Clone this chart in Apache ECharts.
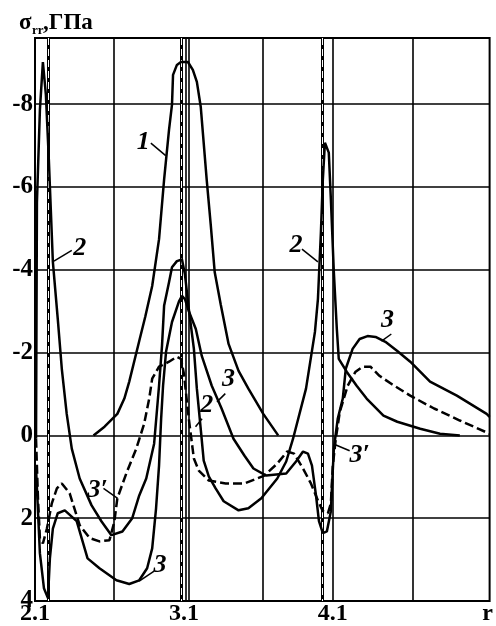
<!DOCTYPE html>
<html><head><meta charset="utf-8">
<script src="https://cdn.jsdelivr.net/npm/echarts@6/dist/echarts.min.js"></script>
<style>html,body{margin:0;padding:0;background:#fff}#c{width:496px;height:626px}</style>
</head><body><div id="c"></div>
<script>
// ---- axes ----
const xMin = 2.1, xMax = 5.153;
const yMin = -9.6, yMax = 4;
const xTickValues = [2.1, 3.1, 4.1, 5.14];
const xTickLabels = ['2.1', '3.1', '4.1', 'r'];
const yTickValues = [-8, -6, -4, -2, 0, 2, 4];
const yGridValues = [-8, -6, -4, -2, 0, 2];
const xGridValues = [2.633, 3.133, 3.633, 4.1, 4.64];
const interfaceDashed = [2.193, 3.08, 4.033];
const interfaceSolid = [3.113];

// ---- curve 1 ----
const c1R = [2.493,2.567,2.653,2.700,2.733,2.800,2.840,2.887,2.933,2.967,3.000,3.020,3.027,3.053,3.080,3.127,3.160,3.187,3.213,3.253,3.280,3.307,3.347,3.400,3.467,3.533,3.633,3.733];
const c1V = [0.00,-0.21,-0.52,-0.89,-1.30,-2.28,-2.86,-3.61,-4.74,-6.18,-7.38,-7.99,-8.71,-8.95,-9.02,-9.02,-8.83,-8.54,-7.94,-6.18,-5.10,-3.94,-3.17,-2.21,-1.56,-1.13,-0.52,0.00];

// ---- curve 2 ----
const c2R = [2.107,2.113,2.133,2.153,2.173,2.193,2.220,2.253,2.280,2.313,2.347,2.400,2.480,2.547,2.613,2.687,2.753,2.800,2.847,2.900,2.933,2.953,2.967,3.000,3.020,3.053,3.087,3.107,3.133,3.167,3.187,3.213,3.233,3.267,3.313,3.367,3.467,3.533,3.620,3.727,3.787,3.833,3.920,3.980,4.000,4.020,4.033,4.047,4.060,4.073,4.087,4.107,4.127,4.140,4.193,4.260,4.327,4.440,4.533,4.687,4.820,4.953];
const c2V = [0.08,-5.63,-7.87,-9.02,-8.23,-6.66,-4.19,-2.81,-1.61,-0.52,0.32,1.04,1.69,2.08,2.41,2.32,2.00,1.45,1.04,0.20,-1.20,-2.17,-3.13,-3.70,-4.06,-4.21,-4.25,-3.89,-3.05,-2.09,-1.13,-0.16,0.61,0.99,1.28,1.59,1.81,1.76,1.52,1.04,0.63,0.08,-1.13,-2.50,-3.29,-4.90,-6.18,-7.07,-7.07,-6.83,-5.70,-3.94,-2.57,-1.85,-1.54,-1.20,-0.89,-0.48,-0.33,-0.16,-0.04,0.00];

// ---- curve 3 ----
const c3R = [2.107,2.133,2.160,2.187,2.200,2.220,2.253,2.300,2.380,2.453,2.533,2.647,2.733,2.800,2.853,2.887,2.913,2.933,2.947,2.960,2.980,3.020,3.067,3.087,3.107,3.133,3.180,3.220,3.287,3.353,3.433,3.507,3.567,3.653,3.787,3.853,3.900,3.933,3.960,3.987,4.007,4.033,4.060,4.087,4.093,4.107,4.133,4.167,4.187,4.233,4.280,4.333,4.387,4.453,4.533,4.620,4.753,4.933,5.133,5.153];
const c3V = [0.80,2.85,3.69,3.93,2.97,2.25,1.88,1.81,2.07,2.97,3.21,3.50,3.59,3.50,3.21,2.73,1.76,0.73,-0.40,-1.20,-2.02,-2.74,-3.24,-3.37,-3.29,-3.00,-2.57,-1.92,-1.20,-0.65,0.08,0.49,0.80,0.97,0.92,0.63,0.39,0.44,0.73,1.45,2.07,2.36,2.32,1.83,1.35,0.32,-0.40,-0.89,-1.61,-2.09,-2.33,-2.40,-2.38,-2.26,-2.04,-1.78,-1.30,-0.96,-0.52,-0.45];

// ---- curve 3' (dashed) ----
const c3pR = [2.107,2.120,2.133,2.153,2.180,2.213,2.247,2.280,2.333,2.400,2.467,2.533,2.600,2.633,2.653,2.713,2.780,2.833,2.867,2.887,2.933,3.000,3.053,3.080,3.100,3.133,3.167,3.200,3.267,3.380,3.507,3.640,3.727,3.793,3.840,3.900,3.953,4.000,4.033,4.067,4.087,4.100,4.120,4.147,4.200,4.253,4.300,4.353,4.413,4.500,4.620,4.780,4.953,5.153];
const c3pV = [0.08,1.52,2.49,2.61,2.25,1.64,1.28,1.16,1.40,2.17,2.48,2.56,2.53,2.08,1.52,0.92,0.32,-0.28,-0.89,-1.37,-1.66,-1.78,-1.90,-1.85,-1.49,-0.40,0.56,0.85,1.09,1.16,1.16,0.97,0.68,0.39,0.44,0.80,1.16,1.57,1.83,1.88,1.64,0.73,0.08,-0.57,-1.20,-1.54,-1.66,-1.66,-1.44,-1.23,-0.96,-0.65,-0.36,-0.04];

// ---- curve annotations (label text, label position, leader line) ----
const annText = ['1', '2', '2', '2', '3', '3', '3', '3\u2032', '3\u2032'];
const annR    = [2.827, 2.400, 3.253, 3.853, 3.400, 2.940, 4.467, 2.520, 4.280];
const annV    = [-7.07, -4.52, -0.72, -4.59, -1.35, 3.14, -2.78, 1.33, 0.49];
const leadR1  = [2.878, 2.347, 3.222, 3.893, 3.378, 2.900, 4.493, 2.560, 4.213];
const leadV1  = [-7.06, -4.47, -0.40, -4.50, -1.01, 3.28, -2.45, 1.28, 0.37];
const leadR2  = [2.978, 2.227, 3.178, 4.000, 3.322, 2.800, 4.427, 2.655, 4.113];
const leadV2  = [-6.76, -4.21, -0.21, -4.19, -0.81, 3.52, -2.28, 1.52, 0.22];

const zip = (a, b) => a.map((v, i) => [v, b[i]]);
const serif = '"Liberation Serif", "Times New Roman", serif';

const chart = echarts.init(document.getElementById('c'), null, {renderer: 'canvas'});
const lineSeries = (name, r, v, dashed) => ({
  name, type: 'line', data: zip(r, v), showSymbol: false, smooth: false,
  lineStyle: {color: '#000', width: 2.5, type: dashed ? [9, 4] : 'solid'},
  z: 5, silent: true
});
const mlBase = {symbol: 'none', silent: true, label: {show: false}, animation: false};

chart.setOption({
  animation: false,
  backgroundColor: '#fff',
  grid: {left: 35, top: 38, right: 3, bottom: 23, show: true, borderColor: '#000', borderWidth: 2, backgroundColor: 'transparent'},
  xAxis: {
    type: 'value', min: xMin, max: xMax,
    axisLine: {show: false}, axisTick: {show: false}, splitLine: {show: false},
    axisLabel: {
      customValues: xTickValues, margin: 1,
      color: '#000', fontFamily: serif, fontWeight: 'bold', fontSize: 24,
      formatter: (val) => {
        let best = 0;
        xTickValues.forEach((t, i) => { if (Math.abs(t - val) < Math.abs(xTickValues[best] - val)) best = i; });
        return xTickLabels[best];
      }
    }
  },
  yAxis: {
    type: 'value', min: yMin, max: yMax, inverse: true,
    axisLine: {show: false}, axisTick: {show: false}, splitLine: {show: false},
    axisLabel: {customValues: yTickValues, margin: 2, color: '#000', fontFamily: serif, fontWeight: 'bold', fontSize: 25,
      formatter: (v) => String(v)}
  },
  graphic: [
    {type: 'text', x: 19, y: 23, style: {text: '\u03c3', font: 'bold 23px ' + serif, fill: '#000', verticalAlign: 'middle'}},
    {type: 'text', x: 32, y: 31, style: {text: 'rr', font: 'bold 13px ' + serif, fill: '#000', verticalAlign: 'middle'}},
    {type: 'text', x: 43, y: 23, style: {text: ',\u0413\u041f\u0430', font: 'bold 23px ' + serif, fill: '#000', verticalAlign: 'middle'}}
  ],
  series: [
    {type: 'line', name: 'grid', data: [], silent: true, z: 1,
      markLine: Object.assign({}, mlBase, {lineStyle: {color: '#000', width: 1.6, type: 'solid'},
        data: yGridValues.map(v => ({yAxis: v})).concat(xGridValues.map(v => ({xAxis: v}))).concat(interfaceSolid.map(v => ({xAxis: v})))})},
    {type: 'line', name: 'iface', data: [], silent: true, z: 2,
      markLine: Object.assign({}, mlBase, {lineStyle: {color: '#000', width: 3, type: 'solid'},
        data: interfaceDashed.map(v => ({xAxis: v}))})},
    {type: 'line', name: 'ifaceW', data: [], silent: true, z: 3,
      markLine: Object.assign({}, mlBase, {lineStyle: {color: '#fff', width: 1, type: [7, 4]},
        data: interfaceDashed.map(v => ({xAxis: v}))})},
    lineSeries('1', c1R, c1V, false),
    lineSeries('2', c2R, c2V, false),
    lineSeries('3', c3R, c3V, false),
    lineSeries("3'", c3pR, c3pV, true),
    {type: 'line', name: 'ann', data: [], silent: true, z: 6,
      markLine: Object.assign({}, mlBase, {lineStyle: {color: '#000', width: 1.5, type: 'solid'},
        data: annText.map((t, i) => [{coord: [leadR1[i], leadV1[i]]}, {coord: [leadR2[i], leadV2[i]]}])}),
      markPoint: {symbol: 'circle', symbolSize: 0, silent: true, animation: false,
        label: {show: true, position: 'inside', color: '#000', fontFamily: serif, fontStyle: 'italic', fontWeight: 'bold', fontSize: 26,
          formatter: (p) => p.name},
        data: annText.map((t, i) => ({name: t, coord: [annR[i], annV[i]]}))}}
  ]
});
</script></body></html>
